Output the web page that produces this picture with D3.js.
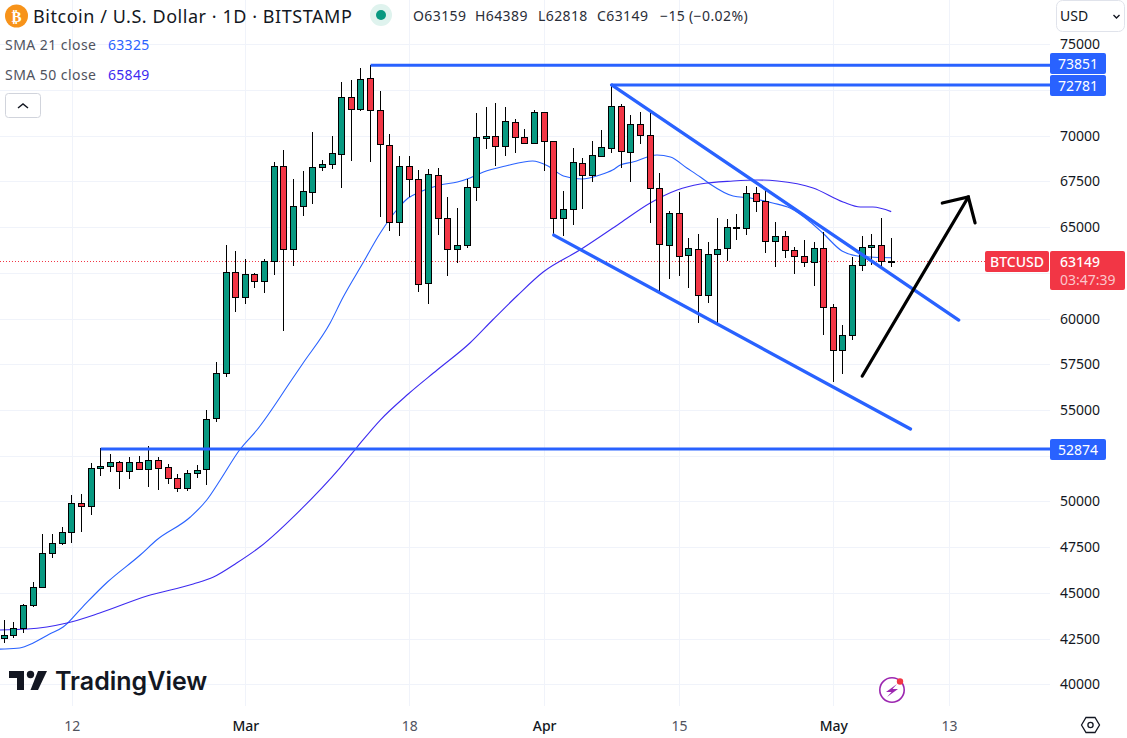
<!DOCTYPE html>
<html>
<head>
<meta charset="utf-8">
<script src="https://cdn.jsdelivr.net/npm/d3@7"></script>
<style>
  html, body { margin: 0; padding: 0; background: #fff; overflow: hidden; }
  svg { display: block; }
  text { font-family: "Noto Sans", "Open Sans", sans-serif; }
</style>
</head>
<body>
<svg id="chart" width="1127" height="738"></svg>
<script>
// daily candles from 5 Feb 2024, index 0 = Feb 5
const opens = [42549,42676,43095,44317,45301,47161,47744,48309,49932,49731,51810,51919,52138,51645,52138,51755,52247,51864,51263,50716,51536,51755,54560,57041,62528,61161,62419,62036,63130,68326,63786,66138,66904,68271,68435,68982,72099,71443,73138,71388,69474,65263,68326,67615,61927,67833,65482,63786,64005,67177,69857,69966,69419,70732,69912,69583,71279,69693,65481,65974,68490,67833,68872,69310,71607,69091,70622,70021,67122,64005,65755,63458,63786,61270,63513,63841,64970,64935,66849,66411,64224,64497,63731,63403,63075,63841,60614,58263,59083,62911,63896,64005,63159];
const highs = [43515,43405,44372,45575,48200,48218,48583,50333,50388,52083,52903,52575,52192,52411,52466,53013,52411,52028,51481,51700,51974,55000,57606,64023,63695,63239,62473,63239,68544,69219,67633,68070,70203,68672,69985,72920,73047,73685,73851,72427,70076,68872,68872,68107,68161,68216,66630,66029,67615,71242,71570,71789,71570,70896,70349,71388,71279,69693,66958,69310,68763,69711,70294,72781,71716,71115,71297,71224,67943,65865,66922,64388,64625,64187,65482,65427,65700,67232,67177,67068,65263,64771,63896,64297,64169,64716,60778,59630,63349,64515,64625,65482,64389];
const lows = [42275,42549,42786,44250,45250,46906,47635,47744,48346,49276,51408,51627,50697,51244,51700,50807,50643,50971,50534,50588,51299,50916,54330,56786,60377,60815,61690,61416,62401,59338,62893,65628,66284,68089,68198,67159,68636,71370,68581,65573,64807,64534,66630,61471,60815,64589,62346,63057,63841,66448,69292,68362,68909,69073,69540,69540,68088,64552,64533,65117,66010,67487,68854,69073,68253,67487,69565,65245,61380,62182,62346,61690,59739,60869,59666,63166,64315,64588,65846,63604,62838,63330,62455,62838,61799,59119,56549,56986,58846,62620,62948,62692,62818];
const closes = [42676,43059,44317,45301,47161,47744,48309,49932,49731,51810,51919,52138,51645,52138,51755,52247,51810,51263,50716,51536,51700,54507,57041,62528,61161,62419,62036,63130,68326,63786,66138,66958,68271,68435,69037,72099,71443,73084,71388,69529,65263,68326,67615,61872,67888,65482,63786,64005,67177,69912,69966,69419,70787,69912,69583,71279,69693,65481,65974,68544,67833,68927,69365,71607,69146,70622,70021,67122,64060,65755,63403,63841,61270,63513,63786,64989,64989,66849,66411,64224,64497,63731,63403,63075,63841,60614,58263,59083,62911,63896,64005,63130,63149];

// moving averages: candle index, price
const sma21Days = [-1,0,1.6,3,4.7,6.1,8.2,10.7,14.1,15.8,19.3,21,22.4,24.4,26.2,29.8,31,33.8,35.1,37.2,39,40.7,41.9,43.1,45.2,47,48.3,49.7,52,54.8,56.4,58,59.9,61.8,63.1,63.9,65.2,67.7,69.1,70.8,72.2,73.2,75.6,77.4,79.7,81.5,83.6,84.9,86.9,88.5,89.8,92];
const sma21Values = [41920,41929,41984,42257,42749,43132,44280,45593,47070,47890,49148,50078,51172,52812,53906,56641,57570,59758,61125,63039,64680,65938,66594,66922,67305,67469,67688,68016,68344,68618,68344,67797,67633,67852,68125,68399,68563,68946,68836,68235,67743,67360,66703,66594,66321,66047,65282,64680,63696,63422,63367,63325];
const sma50Days = [-1,2.4,6.5,9.9,14.8,19.6,21.7,24.1,26.5,30.7,34.8,36.6,39,41.9,44.9,48.3,50.7,53.2,55.9,59.7,63.9,67,69.8,72.2,75.6,78.1,80.2,83.9,87,88.8,90.1,92];
const sma50Values = [42968,43023,43351,43898,44828,45484,45867,46632,47507,49531,51828,52976,54453,55875,57188,58664,59950,61250,62547,63750,65227,66321,67032,67360,67524,67579,67524,67141,66375,66102,66102,65849];

const priceTicks = d3.range(40000, 75001, 2500);
// these three sit behind the tags on the price scale
const hiddenPriceLabels = [72500, 62500, 52500];
const dateTicks = [7, 25, 42, 56, 70, 86, 98];
const dateLabels = ["12", "Mar", "18", "Apr", "15", "May", "13"];
const monthLabels = ["Mar", "Apr", "May"];

// drawings: [candle index, price]
const hLevels = [[38, 73851], [63, 72781], [10, 52874]];
const tagNudge = [-2, 0, 0];
const channelTop = [[63, 72781], [99, 59922]];
const channelBottom = [[57, 64567], [94, 53962]];
const arrowShaft = [[89, 56859], [100, 66649]];
const arrowHead = [[97.3, 66320], [100, 66649], [100.7, 65230]];

const lastPrice = 63149;
const ohlcLegend = [["O63159", 413], ["H64389", 475], ["L62818", 538], ["C63149", 597], ["\u221215", 660], ["(\u22120.02%)", 689]];

const width = 1127, height = 738, plotRight = 1050, plotBottom = 706;
const green = "#089981", red = "#f23645", blue = "#2962ff", violet = "#3d2bf0", ink = "#131722";

const x = d3.scaleLinear().domain([0, 92]).range([4.3, 891.2]);
const y = d3.scaleLinear().domain([40000, 75000]).range([684.3, 44.3]);

const svg = d3.select("#chart");
svg.append("rect").attr("width", width).attr("height", height).attr("fill", "#fff");

// grid
const grid = svg.append("g").attr("stroke", "#f0f3fa").attr("shape-rendering", "crispEdges");
grid.selectAll("line.h").data(priceTicks).join("line").attr("class", "h")
  .attr("x1", 0).attr("x2", plotRight)
  .attr("y1", d => Math.round(y(d)) + 0.5).attr("y2", d => Math.round(y(d)) + 0.5);
grid.selectAll("line.v").data(dateTicks).join("line").attr("class", "v")
  .attr("y1", 0).attr("y2", plotBottom)
  .attr("x1", d => Math.round(x(d)) + 0.5).attr("x2", d => Math.round(x(d)) + 0.5);

// axes
const yAxis = d3.axisRight(y).tickValues(priceTicks.filter(d => !hiddenPriceLabels.includes(d)))
  .tickSize(0).tickPadding(0).tickFormat(d3.format("d"));
const yG = svg.append("g").attr("transform", `translate(1060,0)`).call(yAxis);
yG.select(".domain").remove();
yG.selectAll("text").attr("font-size", 14).attr("fill", ink).style("font-family", '"Noto Sans"');

const xAxis = d3.axisBottom(x).tickValues(dateTicks).tickSize(0).tickPadding(0).tickFormat((d, i) => dateLabels[i]);
const xG = svg.append("g").attr("transform", `translate(0,721)`).call(xAxis);
xG.select(".domain").remove();
xG.selectAll("text").attr("font-size", 14)
  .attr("fill", (d, i) => monthLabels.includes(dateLabels[i]) ? ink : "#50535e")
  .attr("font-weight", (d, i) => monthLabels.includes(dateLabels[i]) ? 500 : 400);

// moving averages sit under the candles
const smaLine = d3.line().x(d => x(d[0])).y(d => y(d[1])).curve(d3.curveMonotoneX);
svg.append("clipPath").attr("id", "plot").append("rect").attr("width", plotRight).attr("height", plotBottom);
const sma = svg.append("g").attr("clip-path", "url(#plot)").attr("fill", "none").attr("stroke-width", 1.1);
sma.append("path").attr("stroke", blue).attr("d", smaLine(d3.zip(sma21Days, sma21Values)));
sma.append("path").attr("stroke", violet).attr("d", smaLine(d3.zip(sma50Days, sma50Values)));

// last price dotted line
svg.append("line").attr("x1", 0).attr("x2", 985)
  .attr("y1", Math.round(y(lastPrice)) + 0.5).attr("y2", Math.round(y(lastPrice)) + 0.5)
  .attr("stroke", red).attr("stroke-dasharray", "1 2");

// candles
const crisp = v => Math.round(v) + 0.5;
const candles = svg.append("g").selectAll("g").data(opens.map((o, i) => i)).join("g");
candles.append("line")
  .attr("x1", i => Math.floor(x(i)) + 0.5).attr("x2", i => Math.floor(x(i)) + 0.5)
  .attr("y1", i => y(highs[i])).attr("y2", i => y(lows[i]))
  .attr("stroke", "#000").attr("stroke-width", 1).attr("shape-rendering", "crispEdges");
candles.append("rect")
  .attr("x", i => Math.floor(x(i)) + 0.5 - 3).attr("width", 6)
  .attr("y", i => crisp(y(Math.max(opens[i], closes[i]))))
  .attr("height", i => Math.max(1, crisp(y(Math.min(opens[i], closes[i]))) - crisp(y(Math.max(opens[i], closes[i])))))
  .attr("fill", i => closes[i] >= opens[i] ? green : red)
  .attr("stroke", "#000").attr("stroke-width", 1).attr("shape-rendering", "crispEdges");

// trend lines and arrow
const drawLine = d3.line().x(d => x(d[0])).y(d => y(d[1]));
const drawings = svg.append("g").attr("fill", "none");
drawings.selectAll("line").data(hLevels).join("line")
  .attr("x1", d => x(d[0])).attr("x2", plotRight)
  .attr("y1", d => y(d[1])).attr("y2", d => y(d[1]))
  .attr("stroke", blue).attr("stroke-width", 3);
[channelTop, channelBottom].forEach(pts => {
  drawings.append("path").attr("d", drawLine(pts)).attr("stroke", blue).attr("stroke-width", 3.3).attr("stroke-linecap", "round");
});
drawings.append("path").attr("d", drawLine(arrowShaft)).attr("stroke", "#000").attr("stroke-width", 3.2).attr("stroke-linecap", "round");
drawings.append("path").attr("d", drawLine(arrowHead)).attr("stroke", "#000").attr("stroke-width", 3.2).attr("stroke-linecap", "round").attr("stroke-linejoin", "miter");

// level labels on the price scale
const levelTag = svg.append("g").selectAll("g").data(hLevels).join("g");
levelTag.append("rect").attr("x", plotRight).attr("width", 56).attr("height", 21).attr("rx", 2)
  .attr("y", (d, i) => Math.round(y(d[1])) - 10 + tagNudge[i]).attr("fill", blue);
levelTag.append("text").attr("x", plotRight + 28).attr("y", (d, i) => Math.round(y(d[1])) + 5.5 + tagNudge[i])
  .attr("text-anchor", "middle").attr("font-size", 14).attr("fill", "#fff").text(d => d[1]);

// last price tags
svg.append("rect").attr("x", 985).attr("y", 251).attr("width", 64).attr("height", 21).attr("rx", 2).attr("fill", red);
svg.append("text").attr("x", 1017).attr("y", 266.5).attr("text-anchor", "middle").attr("font-size", 14).attr("font-weight", 500).attr("fill", "#fff").text("BTCUSD");
svg.append("rect").attr("x", plotRight).attr("y", 251).attr("width", 75).attr("height", 39).attr("rx", 2).attr("fill", red);
svg.append("text").attr("x", 1060).attr("y", 267).attr("font-size", 14).attr("font-weight", 500).attr("fill", "#fff").text(lastPrice);
svg.append("text").attr("x", 1060).attr("y", 285).attr("font-size", 14).attr("fill", "#fbc6cb").text("03:47:39");

// header
svg.append("circle").attr("cx", 16.5).attr("cy", 16).attr("r", 11.5).attr("fill", "#f7931a");
svg.append("text").attr("x", 16.5).attr("y", 21.5).attr("text-anchor", "middle").attr("font-size", 15).attr("font-weight", 700).attr("fill", "#fff").style("font-family", '"DejaVu Sans"').text("\u20bf");
svg.append("text").attr("x", 33).attr("y", 22.5).attr("font-size", 18).attr("letter-spacing", 0.55).attr("fill", ink).text("Bitcoin / U.S. Dollar \u00b7 1D \u00b7 BITSTAMP");
svg.append("circle").attr("cx", 381).attr("cy", 15).attr("r", 11).attr("fill", "#dff3ee");
svg.append("circle").attr("cx", 381).attr("cy", 15).attr("r", 5).attr("fill", green);
svg.append("g").selectAll("text").data(ohlcLegend).join("text")
  .attr("x", d => d[1]).attr("y", 21).attr("font-size", 14).attr("letter-spacing", 0.4).attr("fill", "#2a2e39").text(d => d[0]);

// indicator legend
const smaLegend = [["SMA 21 close", "63325", 50, blue], ["SMA 50 close", "65849", 80, violet]];
smaLegend.forEach(d => {
  svg.append("text").attr("x", 5).attr("y", d[2]).attr("font-size", 14).attr("letter-spacing", 0.45).attr("fill", "#50535e").text(d[0]);
  svg.append("text").attr("x", 108).attr("y", d[2]).attr("font-size", 14).attr("letter-spacing", 0.3).attr("fill", d[3]).text(d[1]);
});
svg.append("rect").attr("x", 5.5).attr("y", 93.5).attr("width", 35).attr("height", 24).attr("rx", 3).attr("fill", "#fff").attr("stroke", "#d1d4dc");
svg.append("path").attr("d", "M18 108l5-4 5 4").attr("fill", "none").attr("stroke", ink).attr("stroke-width", 1.5);

// currency box
svg.append("rect").attr("x", 1056.5).attr("y", 0.5).attr("width", 68).attr("height", 31).attr("rx", 6).attr("fill", "#fff").attr("stroke", "#e0e3eb");
svg.append("text").attr("x", 1060).attr("y", 21).attr("font-size", 14).attr("fill", ink).text("USD");
svg.append("path").attr("d", "M1113.5 15l3 3 3-3").attr("fill", "none").attr("stroke", ink).attr("stroke-width", 1.4);

// TradingView logo
const logo = svg.append("g").attr("fill", ink);
logo.append("path").attr("d", "M9 671H24V690H17V678H9Z");
logo.append("circle").attr("cx", 30.5).attr("cy", 674.5).attr("r", 3.7);
logo.append("path").attr("d", "M38 671H47L38 690H30.5Z");
logo.append("text").attr("x", 55).attr("y", 690).attr("font-size", 25).attr("font-weight", 600).style("font-family", "Inter").text("TradingView");

// bolt badge
svg.append("circle").attr("cx", 892).attr("cy", 690).attr("r", 12.2).attr("fill", "#fff").attr("stroke", "#9c27b0").attr("stroke-width", 1.6);
svg.append("path").attr("d", "M897 684L886 692L891.5 692L887 697L898 689L892.5 689Z").attr("fill", "#9c27b0");
svg.append("circle").attr("cx", 900).attr("cy", 681.5).attr("r", 3.2).attr("fill", red);

// settings hexagon
svg.append("path").attr("d", "M1081.5 725L1086 717.5H1095L1099.5 725L1095 732.5H1086Z").attr("fill", "none").attr("stroke", ink).attr("stroke-width", 1.3);
svg.append("circle").attr("cx", 1090.5).attr("cy", 725).attr("r", 2.6).attr("fill", "none").attr("stroke", ink).attr("stroke-width", 1.3);
</script>
</body>
</html>
